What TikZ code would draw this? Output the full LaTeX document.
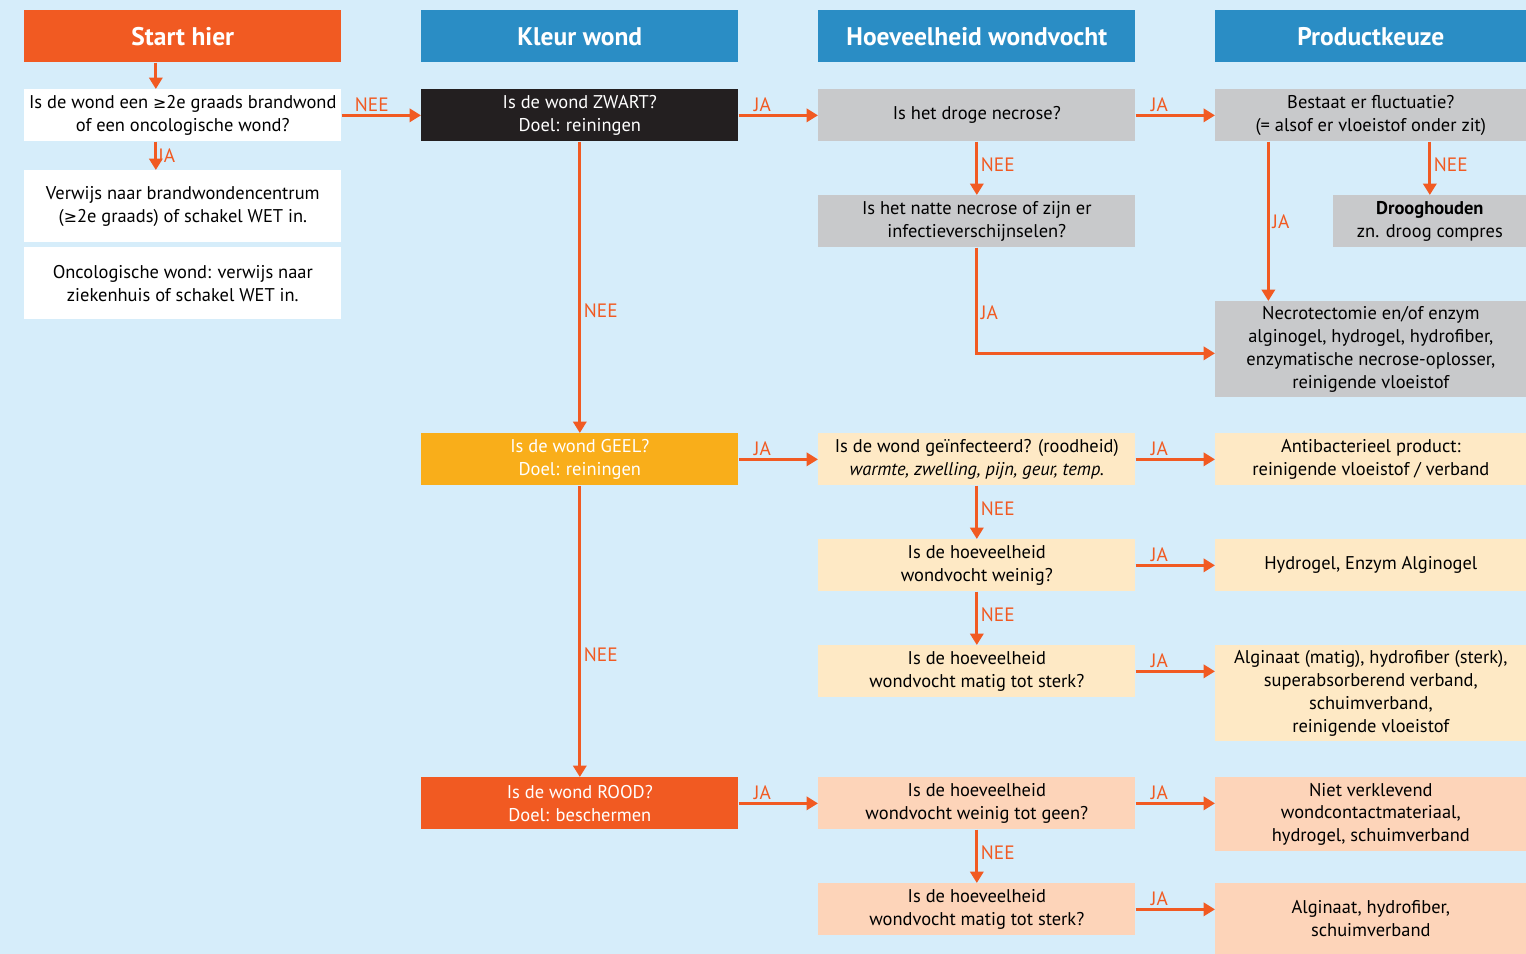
\documentclass[tikz,border=0pt]{standalone}
\usepackage{fontspec}
\setmainfont{PT Sans}
\newfontfamily\symfont{DejaVu Sans}
\usetikzlibrary{arrows.meta}

\definecolor{bgblue}{HTML}{D6EDFA}
\definecolor{hdrblue}{HTML}{2A8DC5}
\definecolor{wondrood}{HTML}{F15A22}
\definecolor{wondgeel}{HTML}{F9AE1A}
\definecolor{wondzwart}{HTML}{231F20}
\definecolor{necgrijs}{HTML}{C8C9CB}
\definecolor{lichtgeel}{HTML}{FEE9C5}
\definecolor{lichtrood}{HTML}{FDD4B9}

\newcommand{\mingraad}{{\symfont\fontsize{9}{13}\selectfont ≥}}

\begin{document}
\begin{tikzpicture}[x = 0.02cm, y = -0.02cm,
	hdr/.style = {anchor = north west, inner sep = 0pt, minimum width = 6.34cm, minimum height = 1.04cm,
		text = white, font = \fontsize{14.5}{16}\selectfont\bfseries},
	box/.style = {anchor = north west, inner sep = 0pt, minimum width = 6.34cm, minimum height = 1.04cm,
		align = center, font = \fontsize{10.5}{13}\selectfont},
	arr/.style = {draw = wondrood, line width = 1.7pt, -{Triangle[length = 6.5pt, width = 7.5pt]}},
	lbl/.style = {text = wondrood, inner sep = 1.5pt, font = \fontsize{11}{12}\selectfont}]
	\useasboundingbox (0,0) rectangle (1526,954);
	\fill[bgblue] (0,0) rectangle (1526,954);

	% kolomkoppen
	\node[hdr, fill = wondrood] (start) at (24,10) {Start hier};
	\node[hdr, fill = hdrblue] (kleur) at (421,10) {Kleur wond};
	\node[hdr, fill = hdrblue] (vocht) at (818,10) {Hoeveelheid wondvocht};
	\node[hdr, fill = hdrblue, minimum width = 6.22cm] (product) at (1215,10) {Productkeuze};

	% start
	\node[box, fill = white] (brand) at (24,89) {Is de wond een \mingraad2e graads brandwond\\of een oncologische wond?};
	\node[box, fill = white, minimum height = 1.44cm] (verwijs) at (24,170) {Verwijs naar brandwondencentrum\\(\mingraad2e graads) of schakel WET in.};
	\node[box, fill = white, minimum height = 1.44cm] (onco) at (24,247) {Oncologische wond: verwijs naar\\ziekenhuis of schakel WET in.};

	% zwart
	\node[box, fill = wondzwart, text = white] (zwart) at (421,89) {Is de wond ZWART?\\Doel: reiningen};
	\node[box, fill = necgrijs] (droog) at (818,89) {Is het droge necrose?};
	\node[box, fill = necgrijs] (nat) at (818,195) {Is het natte necrose of zijn er\\infectieverschijnselen?};
	\node[box, fill = necgrijs, minimum width = 6.22cm] (fluct) at (1215,89) {Bestaat er fluctuatie?\\(= alsof er vloeistof onder zit)};
	\node[box, fill = necgrijs, minimum width = 3.86cm] (droogh) at (1333,195) {\textbf{Drooghouden}\\zn. droog compres};
	\node[box, fill = necgrijs, minimum width = 6.22cm, minimum height = 1.92cm] (necro) at (1215,301) {Necrotectomie en/of enzym\\alginogel, hydrogel, hydrofiber,\\enzymatische necrose-oplosser,\\reinigende vloeistof};

	% geel
	\node[box, fill = wondgeel, text = white] (geel) at (421,433) {Is de wond GEEL?\\Doel: reiningen};
	\node[box, fill = lichtgeel] (infect) at (818,433) {Is de wond geïnfecteerd? (roodheid)\\\textit{warmte, zwelling, pijn, geur, temp.}};
	\node[box, fill = lichtgeel, minimum width = 6.22cm] (antibac) at (1215,433) {Antibacterieel product:\\reinigende vloeistof / verband};
	\node[box, fill = lichtgeel] (weinig) at (818,539) {Is de hoeveelheid\\wondvocht weinig?};
	\node[box, fill = lichtgeel, minimum width = 6.22cm] (hydro) at (1215,539) {Hydrogel, Enzym Alginogel};
	\node[box, fill = lichtgeel] (matig) at (818,645) {Is de hoeveelheid\\wondvocht matig tot sterk?};
	\node[box, fill = lichtgeel, minimum width = 6.22cm, minimum height = 1.92cm] (algi) at (1215,645) {Alginaat (matig), hydrofiber (sterk),\\superabsorberend verband,\\schuimverband,\\reinigende vloeistof};

	% rood
	\node[box, fill = wondrood, text = white] (rood) at (421,777) {Is de wond ROOD?\\Doel: beschermen};
	\node[box, fill = lichtrood] (geen) at (818,777) {Is de hoeveelheid\\wondvocht weinig tot geen?};
	\node[box, fill = lichtrood, minimum width = 6.22cm, minimum height = 1.48cm] (verkl) at (1215,777) {Niet verklevend\\wondcontactmateriaal,\\hydrogel, schuimverband};
	\node[box, fill = lichtrood] (sterk) at (818,883) {Is de hoeveelheid\\wondvocht matig tot sterk?};
	\node[box, fill = lichtrood, minimum width = 6.22cm, minimum height = 1.42cm] (schuim) at (1215,883) {Alginaat, hydrofiber,\\schuimverband};

	% pijlen
	\draw[arr] ([xshift = -0.54cm]start.south) -- ([xshift = -0.54cm]brand.north);
	\draw[arr] ([xshift = -0.54cm]brand.south) -- ([xshift = -0.54cm]verwijs.north) node[lbl, right, midway, xshift = -1pt] {JA};
	\draw[arr] (brand) -- (zwart) node[lbl, above, pos = .38] {NEE};
	\draw[arr] (zwart) -- (droog) node[lbl, above, pos = .3] {JA};
	\draw[arr] (zwart) -- (geel) node[lbl, right, pos = .58] {NEE};
	\draw[arr] (geel) -- (rood) node[lbl, right, pos = .58] {NEE};
	\draw[arr] (droog) -- (fluct) node[lbl, above, pos = .3] {JA};
	\draw[arr] (droog) -- (nat) node[lbl, right, pos = .43] {NEE};
	\draw[arr] (nat.south) |- ([yshift = -0.08cm]necro.west) node[lbl, right, pos = .31] {JA};
	\draw[arr] ([xshift = -2.05cm]fluct.south) -- ([xshift = -2.05cm]necro.north) node[lbl, right, midway] {JA};
	\draw[arr] (fluct.south -| droogh.north) -- (droogh.north) node[lbl, right, pos = .43] {NEE};

	\draw[arr] (geel) -- (infect) node[lbl, above, pos = .3] {JA};
	\draw[arr] (infect) -- (antibac) node[lbl, above, pos = .3] {JA};
	\draw[arr] (infect) -- (weinig) node[lbl, right, pos = .43] {NEE};
	\draw[arr] (weinig) -- (hydro) node[lbl, above, pos = .3] {JA};
	\draw[arr] (weinig) -- (matig) node[lbl, right, pos = .43] {NEE};
	\draw[arr] (matig.east) -- (matig.east -| algi.west) node[lbl, above, pos = .3] {JA};

	\draw[arr] (rood) -- (geen) node[lbl, above, pos = .3] {JA};
	\draw[arr] (geen.east) -- (geen.east -| verkl.west) node[lbl, above, pos = .3] {JA};
	\draw[arr] (geen) -- (sterk) node[lbl, right, pos = .43] {NEE};
	\draw[arr] (sterk.east) -- (sterk.east -| schuim.west) node[lbl, above, pos = .3] {JA};
\end{tikzpicture}
\end{document}
